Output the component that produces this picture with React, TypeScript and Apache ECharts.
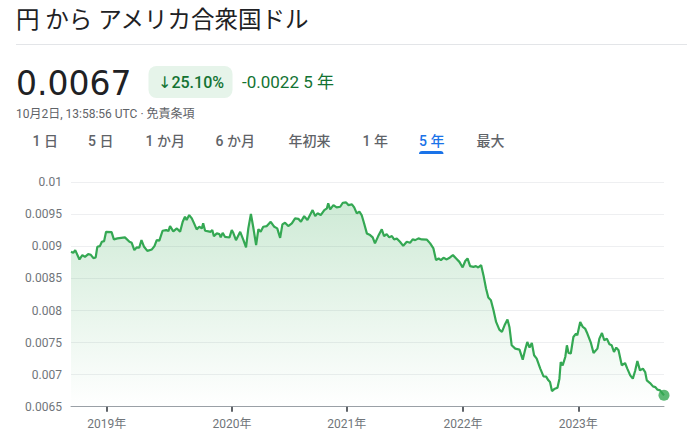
import React, { useEffect, useRef } from "react";
import * as echarts from "echarts";

// x: days since 2018-10-02 (start of the 5-year window), y: JPY→USD rate
const days = [
  0, 7, 13, 26, 35, 43, 53, 61, 69, 76, 81, 89, 95, 102, 108, 125, 132, 143, 166, 180,
  187, 195, 202, 210, 217, 225, 235, 249, 257, 264, 272, 282, 293, 300, 305, 315, 326, 336, 344, 351,
  356, 364, 372, 379, 387, 395, 403, 407, 413, 423, 430, 435, 440, 449, 457, 461, 467, 474, 481, 488,
  495, 500, 508, 521, 531, 539, 546, 554, 561, 570, 577, 584, 592, 603, 615, 626, 635, 644, 651, 659,
  669, 680, 690, 700, 708, 718, 728, 736, 744, 752, 759, 769, 780, 788, 792, 798, 808, 818, 829, 837,
  847, 854, 865, 872, 880, 888, 895, 902, 911, 921, 929, 936, 946, 957, 964, 972, 980, 988, 995, 1003,
  1013, 1023, 1034, 1044, 1052, 1060, 1070, 1080, 1096, 1106, 1116, 1124, 1132, 1139, 1147, 1157, 1167, 1176, 1186, 1196,
  1206, 1214, 1221, 1229, 1239, 1247, 1254, 1263, 1270, 1278, 1285, 1293, 1301, 1309, 1319, 1327, 1335, 1344, 1350, 1357,
  1368, 1381, 1391, 1398, 1405, 1412, 1419, 1426, 1434, 1445, 1455, 1463, 1470, 1475, 1481, 1488, 1498, 1504, 1508, 1514,
  1522, 1527, 1532, 1539, 1547, 1555, 1559, 1568, 1576, 1583, 1590, 1601, 1609, 1621, 1627, 1635, 1642, 1650, 1658, 1665,
  1672, 1679, 1686, 1696, 1706, 1713, 1722, 1730, 1737, 1744, 1752, 1761, 1768, 1773, 1783, 1792, 1799, 1806, 1814, 1826,
];

const rates = [
  0.008916, 0.0089, 0.008942, 0.008797, 0.008864, 0.008838, 0.00888, 0.008869, 0.008817, 0.008828,
  0.008994, 0.009005, 0.009072, 0.009083, 0.009228, 0.009223, 0.009109, 0.009125, 0.009141, 0.009072,
  0.009056, 0.008942, 0.008984, 0.00898, 0.009098, 0.008994, 0.008931, 0.008953, 0.009005, 0.009098,
  0.00909, 0.009244, 0.009255, 0.009239, 0.009317, 0.009235, 0.009281, 0.009228, 0.009384, 0.009462,
  0.009411, 0.009489, 0.009437, 0.009359, 0.009266, 0.009306, 0.009281, 0.009359, 0.009244, 0.009235,
  0.009228, 0.009255, 0.009161, 0.009203, 0.009192, 0.009141, 0.009212, 0.00915, 0.009145, 0.009141,
  0.009255, 0.009208, 0.009098, 0.009228, 0.009098, 0.008984, 0.009281, 0.009505, 0.009306, 0.00902,
  0.00927, 0.009228, 0.009306, 0.009317, 0.009384, 0.009306, 0.009281, 0.009134, 0.009344, 0.009369,
  0.009317, 0.009359, 0.009437, 0.00943, 0.009384, 0.009473, 0.009411, 0.009489, 0.009567, 0.009473,
  0.009516, 0.009489, 0.009567, 0.009594, 0.009672, 0.009578, 0.009645, 0.009609, 0.009619, 0.009681,
  0.009687, 0.009645, 0.009656, 0.009609, 0.009516, 0.009541, 0.009489, 0.009369, 0.009203, 0.009177,
  0.009141, 0.009047, 0.009161, 0.009266, 0.009161, 0.009192, 0.009141, 0.009161, 0.009109, 0.009125,
  0.009072, 0.009009, 0.009072, 0.009056, 0.009109, 0.009098, 0.009125, 0.009109, 0.009105, 0.009047,
  0.008969, 0.008786, 0.008812, 0.008786, 0.008822, 0.008797, 0.008828, 0.008864, 0.008812, 0.008759,
  0.008672, 0.008773, 0.008812, 0.008692, 0.008681, 0.008692, 0.008672, 0.008708, 0.008552, 0.008344,
  0.008203, 0.008161, 0.008005, 0.007822, 0.007703, 0.007666, 0.00777, 0.007859, 0.007744, 0.007458,
  0.007406, 0.007391, 0.007234, 0.00738, 0.007509, 0.007422, 0.007494, 0.007302, 0.00725, 0.007094,
  0.006973, 0.00697, 0.006911, 0.006884, 0.006744, 0.006775, 0.006797, 0.006937, 0.007197, 0.007145,
  0.007275, 0.007458, 0.007337, 0.00733, 0.007587, 0.007641, 0.007614, 0.007822, 0.007744, 0.007719,
  0.007641, 0.007494, 0.007337, 0.007406, 0.007562, 0.00765, 0.007536, 0.007562, 0.007473, 0.007458,
  0.007353, 0.007422, 0.00738, 0.007145, 0.007181, 0.007094, 0.006989, 0.006937, 0.007056, 0.007212,
  0.007067, 0.007094, 0.007041, 0.006911, 0.006869, 0.006817, 0.006806, 0.006766, 0.006755, 0.006677,
];

const yearTickDays = [110, 496, 849, 1207, 1562];
const yearTickLabels = ["2019年", "2020年", "2021年", "2022年", "2023年"];

const yMin = 0.0065;
const yMax = 0.01;
const yStep = 0.0005;

const titleText = "円 から アメリカ合衆国ドル";
const priceText = "0.0067";
const changePctText = "↓25.10%";
const changeAbsText = "-0.0022 5 年";
const subtitleText = "10月2日, 13:58:56 UTC · 免責条項";
const tabLabels = ["1 日", "5 日", "1 か月", "6 か月", "年初来", "1 年", "5 年", "最大"];
const activeTab = "5 年";

const FONT = 'Roboto, "Noto Sans CJK JP", sans-serif';
const GREEN = "#34a853";

export default function App() {
  const ref = useRef<HTMLDivElement>(null);

  useEffect(() => {
    if (!ref.current) return;
    const chart = echarts.init(ref.current, undefined, { renderer: "svg" });

    const tabX = [32.5, 88, 145.5, 215.5, 288.5, 362.5, 419, 476.5];
    const tabGraphics = tabLabels.map((t, i) => ({
      type: "text",
      x: tabX[i],
      y: 141,
      style: {
        text: t,
        fontSize: 14,
        fontWeight: 500,
        fontFamily: FONT,
        fill: t === activeTab ? "#1a73e8" : "#5f6368",
        verticalAlign: "middle",
      },
    }));

    const lineData = days.map((d, i) => [d, rates[i]]);
    const last = lineData[lineData.length - 1];

    chart.setOption({
      animation: false,
      grid: { left: 71, right: 23, top: 182.3, bottom: 38.3, containLabel: false },
      xAxis: {
        type: "value",
        min: 0,
        max: days[days.length - 1],
        axisLine: { show: true, lineStyle: { color: "#9aa0a6", width: 1 } },
        axisTick: {
          show: true,
          customValues: yearTickDays,
          length: 5,
          lineStyle: { color: "#5f6368", width: 2 },
        },
        axisLabel: {
          customValues: yearTickDays,
          formatter: (v: number) => {
            let best = 0;
            for (let i = 1; i < yearTickDays.length; i++) {
              if (Math.abs(yearTickDays[i] - v) < Math.abs(yearTickDays[best] - v)) best = i;
            }
            return yearTickLabels[best];
          },
          color: "#70757a",
          fontSize: 12,
          fontFamily: FONT,
          margin: 11,
        },
        splitLine: { show: false },
      },
      yAxis: {
        type: "value",
        min: yMin,
        max: yMax,
        interval: yStep,
        axisLine: { show: false },
        axisTick: { show: false },
        axisLabel: {
          formatter: (v: number) => String(parseFloat(v.toFixed(4))),
          color: "#70757a",
          fontSize: 12,
          fontFamily: FONT,
          margin: 9,
        },
        splitLine: { lineStyle: { color: "#eeeff1", width: 1 } },
      },
      series: [
        {
          type: "line",
          data: lineData,
          showSymbol: false,
          smooth: false,
          lineStyle: { color: GREEN, width: 2.2 },
          areaStyle: {
            color: new echarts.graphic.LinearGradient(0, 0, 0, 1, [
              { offset: 0, color: "rgba(52,168,83,0.34)" },
              { offset: 1, color: "rgba(52,168,83,0)" },
            ]),
          },
          z: 2,
        },
        {
          type: "scatter",
          data: [last],
          symbol: "circle",
          symbolSize: 11,
          itemStyle: { color: GREEN },
          z: 3,
        },
      ],
      graphic: [
        {
          type: "text",
          x: 16,
          y: 20,
          style: {
            text: titleText,
            fontSize: 23.5,
            fontFamily: FONT,
            fill: "#202124",
            verticalAlign: "middle",
          },
        },
        {
          type: "line",
          shape: { x1: 16, y1: 44.5, x2: 687, y2: 44.5 },
          style: { stroke: "#e3e5e8", lineWidth: 1 },
        },
        {
          type: "text",
          x: 16,
          y: 83,
          style: {
            text: priceText,
            fontSize: 33,
            fontFamily: '"DejaVu Sans", sans-serif',
            fill: "#202124",
            verticalAlign: "middle",
          },
        },
        {
          type: "rect",
          shape: { x: 148.5, y: 66, width: 84, height: 32, r: 8 },
          style: { fill: "#e6f4ea" },
        },
        {
          type: "text",
          x: 158,
          y: 82,
          style: {
            text: changePctText,
            fontSize: 16,
            fontWeight: 500,
            fontFamily: 'Roboto, "DejaVu Sans", sans-serif',
            fill: "#137333",
            verticalAlign: "middle",
          },
        },
        {
          type: "text",
          x: 242,
          y: 82,
          style: {
            text: changeAbsText,
            fontSize: 17,
            fontWeight: 400,
            fontFamily: FONT,
            fill: "#137333",
            verticalAlign: "middle",
          },
        },
        {
          type: "text",
          x: 16,
          y: 113.5,
          style: {
            text: subtitleText,
            fontSize: 12,
            fontFamily: FONT,
            fill: "#5f6368",
            verticalAlign: "middle",
          },
        },
        ...tabGraphics,
        {
          type: "rect",
          shape: { x: 419, y: 151, width: 24.5, height: 3, r: [3, 3, 0, 0] },
          style: { fill: "#1a73e8" },
        },
      ],
    });

    return () => chart.dispose();
  }, []);

  return (
    <div
      ref={ref}
      style={{ position: "absolute", left: 0, top: 0, width: 687, height: 445, background: "#fff" }}
    />
  );
}
